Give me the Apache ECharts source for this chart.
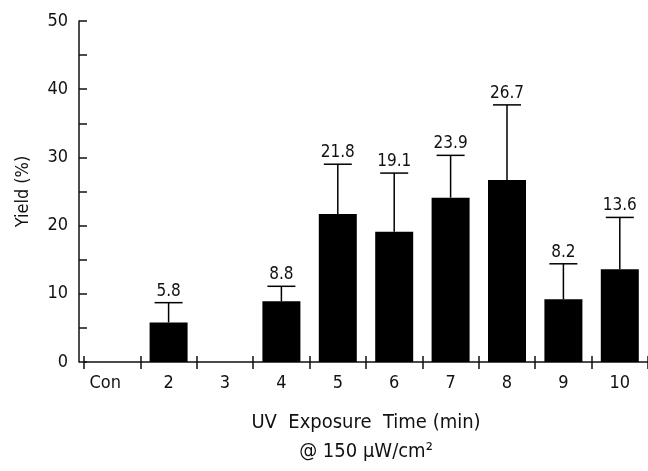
<!DOCTYPE html>
<html><head><meta charset="utf-8">
<script src="https://cdn.jsdelivr.net/npm/echarts@6/dist/echarts.min.js"></script>
<style>html,body{margin:0;padding:0;background:#fff}#c{width:648px;height:471px}</style>
</head><body><div id="c"></div>
<script>
const categories = ['Con','2','3','4','5','6','7','8','9','10'];
const yieldMeans = [null,5.8,null,8.9,21.7,19.1,24.1,26.7,9.2,13.6];
const errorTops = [null,8.7,null,11.1,29.0,27.7,30.3,37.7,14.4,21.2];
const valueLabels = ['','5.8','','8.8','21.8','19.1','23.9','26.7','8.2','13.6'];
const yMin = 0, yMax = 50, yStep = 5, yLabelStep = 10;

const FONT = '"DejaVu Sans Condensed", "Liberation Sans Narrow", "DejaVu Sans", sans-serif';
const INK = '#111';

const errData = [];
categories.forEach((c, i) => {
  if (yieldMeans[i] != null && errorTops[i] != null) errData.push([i, yieldMeans[i], errorTops[i], i]);
});
const catData = categories.map((c, i) => i === 0
  ? { value: c, textStyle: { padding: [0, 14, 0, 0] } }
  : c);

const chart = echarts.init(document.getElementById('c'));
chart.setOption({
  animation: false,
  backgroundColor: '#fff',
  grid: { left: 84, right: -6, top: 21, bottom: 102, containLabel: false },
  xAxis: [
    {
      type: 'category', data: catData, position: 'bottom',
      axisLine: { show: true, lineStyle: { color: INK, width: 1.5 } },
      axisTick: { show: true, length: 7, lineStyle: { color: INK, width: 1.5 } },
      axisLabel: { color: INK, fontFamily: FONT, fontSize: 18, margin: 12 },
      name: 'UV  Exposure  Time (min)\n@ 150 µW/cm²',
      nameLocation: 'middle', nameGap: 46,
      nameTextStyle: { color: INK, fontFamily: FONT, fontSize: 20, lineHeight: 29 }
    },
    {
      type: 'category', data: categories, position: 'bottom',
      axisLine: { show: false },
      axisTick: { show: true, inside: true, length: 6, lineStyle: { color: INK, width: 1.5 } },
      axisLabel: { show: false }
    }
  ],
  yAxis: {
    type: 'value', min: yMin, max: yMax, interval: yStep, offset: 5,
    axisLine: { show: true, lineStyle: { color: INK, width: 1.5 } },
    axisTick: { show: true, inside: true, length: 8, lineStyle: { color: INK, width: 1.5 } },
    axisLabel: { color: INK, fontFamily: FONT, fontSize: 18, margin: 11,
      formatter: v => (v % yLabelStep === 0 ? String(v) : '') },
    splitLine: { show: false },
    name: 'Yield (%)', nameLocation: 'middle', nameGap: 47, nameRotate: 90,
    nameTextStyle: { color: INK, fontFamily: FONT, fontSize: 18 }
  },
  series: [
    {
      type: 'bar', data: yieldMeans, barWidth: 38, xAxisIndex: 0,
      itemStyle: { color: '#000' }
    },
    {
      type: 'custom', xAxisIndex: 0, data: errData, z: 5,
      renderItem: function (params, api) {
        const i = api.value(0);
        const lo = api.coord([i, api.value(1)]);
        const hi = api.coord([i, api.value(2)]);
        const half = 14;
        const st = { stroke: '#000', lineWidth: 1.5 };
        return { type: 'group', children: [
          { type: 'line', shape: { x1: lo[0], y1: lo[1], x2: hi[0], y2: hi[1] }, style: st },
          { type: 'line', shape: { x1: hi[0] - half, y1: hi[1], x2: hi[0] + half, y2: hi[1] }, style: st },
          { type: 'text', x: hi[0], y: hi[1] - 3, style: {
              text: valueLabels[api.value(3)], textAlign: 'center', textVerticalAlign: 'bottom',
              fontFamily: FONT, fontSize: 17, fill: INK } }
        ]};
      }
    }
  ]
});
</script></body></html>
